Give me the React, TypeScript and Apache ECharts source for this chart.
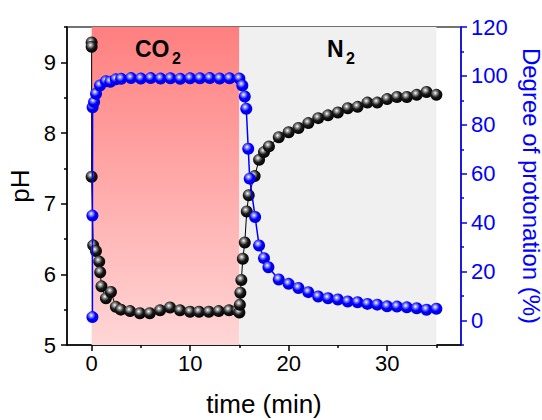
import React, { useEffect, useRef } from 'react';
import * as echarts from 'echarts';

// pH (left axis, black spheres)
const phTime = [0, 0, 0, 0.16, 0.44, 0.77, 0.87, 1.0, 1.45, 1.96, 2.46, 2.97, 3.9, 4.9, 5.9, 6.95, 7.96, 8.97, 9.99, 10.9, 11.9, 12.9, 13.95, 14.8, 15.0, 15.05, 15.1, 15.2, 15.35, 15.55, 15.75, 15.95, 16.55, 17.0, 17.5, 18.0, 19.0, 20.0, 21.0, 22.0, 23.0, 24.0, 25.0, 26.0, 27.0, 28.0, 29.0, 30.0, 31.0, 32.0, 33.0, 34.0, 35.0];
const phValues = [9.28, 9.22, 7.38, 6.41, 6.33, 6.18, 6.03, 5.83, 5.66, 5.75, 5.54, 5.5, 5.48, 5.45, 5.45, 5.49, 5.53, 5.49, 5.47, 5.47, 5.47, 5.48, 5.49, 5.49, 5.46, 5.57, 5.74, 5.92, 6.22, 6.45, 6.89, 7.12, 7.39, 7.62, 7.73, 7.81, 7.94, 8.01, 8.07, 8.14, 8.21, 8.25, 8.29, 8.35, 8.37, 8.43, 8.43, 8.48, 8.51, 8.51, 8.54, 8.58, 8.54];

// Degree of protonation (right axis, blue spheres)
const degTime = [0.08, 0.08, 0.1, 0.25, 0.45, 0.85, 1.45, 1.9, 2.45, 3, 4, 5, 6, 7, 8, 9, 10, 11, 12, 13, 14, 15.0, 15.3, 15.55, 15.7, 15.9, 16.05, 16.6, 17.0, 17.5, 17.95, 19, 20, 21, 22, 23, 24, 25, 26, 27, 28, 29, 30, 31, 32, 33, 34, 35];
const degValues = [1.4, 42.9, 87.2, 89.3, 92.7, 96.1, 97.8, 97.6, 98.6, 98.8, 99.1, 98.9, 99.1, 98.9, 99.0, 98.8, 99.0, 99.0, 99.1, 98.9, 99.0, 98.9, 96.1, 91.6, 86.6, 70.2, 58.0, 42.3, 30.7, 25.5, 21.8, 16.8, 15.0, 13.3, 11.6, 9.8, 9.1, 8.6, 7.8, 7.5, 6.8, 6.5, 5.8, 5.7, 5.4, 5.0, 4.4, 4.8];

// Gas phases
const co2Phase = [0, 15];
const n2Phase = [15, 35];

// Axis ticks
const xRange = [-2.5, 37.5];
const xMajorTicks = [0, 10, 20, 30];
const xMinorTicks = [5, 15, 25, 35];
const phRange = [5, 9.5];
const phMajorTicks = [5, 6, 7, 8, 9];
const phMinorTicks = [5.5, 6.5, 7.5, 8.5, 9.5];
const degRange = [-10, 120];
const degMajorTicks = [0, 20, 40, 60, 80, 100, 120];
const degMinorTicks = [-10, 10, 30, 50, 70, 90, 110];

const FONT = 'Liberation Sans, Arial, sans-serif';
const BLUE = '#0000ff';

export default function App() {
  const ref = useRef<HTMLDivElement>(null);
  useEffect(() => {
    if (!ref.current) return;
    const chart = echarts.init(ref.current, null, { renderer: 'svg' });
    const blackBall = new echarts.graphic.RadialGradient(0.4, 0.35, 0.65, [
      { offset: 0, color: '#ffffff' },
      { offset: 0.22, color: '#9a9a9a' },
      { offset: 0.55, color: '#1a1a1a' },
      { offset: 1, color: '#000000' },
    ]);
    const blueBall = new echarts.graphic.RadialGradient(0.4, 0.35, 0.65, [
      { offset: 0, color: '#ffffff' },
      { offset: 0.22, color: '#9090ff' },
      { offset: 0.55, color: '#0000ff' },
      { offset: 1, color: '#0000d8' },
    ]);
    const redGrad = new echarts.graphic.LinearGradient(0, 0, 0, 1, [
      { offset: 0, color: '#ff7f7f' },
      { offset: 1, color: '#ffd6d6' },
    ]);
    const phData = phTime.map((t, i) => [t, phValues[i]]);
    const degData = degTime.map((t, i) => [t, degValues[i]]);
    const hiddenAxisBase = {
      axisLine: { show: false, onZero: false },
      axisLabel: { show: false },
      splitLine: { show: false },
    };
    chart.setOption({
      animation: false,
      textStyle: { fontFamily: FONT },
      grid: {
        left: 67, right: 81, top: 27, bottom: 75,
        outerBoundsMode: 'none', containLabel: false,
        show: true, borderColor: '#444', borderWidth: 1.5, backgroundColor: 'transparent',
      },
      xAxis: [
        {
          type: 'value', min: xRange[0], max: xRange[1], position: 'bottom',
          name: 'time (min)', nameLocation: 'middle', nameGap: 46,
          nameTextStyle: { fontSize: 26, color: '#000', fontFamily: FONT },
          axisLine: { show: true, onZero: false, lineStyle: { color: '#000', width: 1.5 } },
          axisTick: { show: true, customValues: xMajorTicks, length: 6, lineStyle: { color: '#000', width: 1.5 } },
          axisLabel: { customValues: xMajorTicks, fontSize: 22, color: '#000', margin: 7, fontFamily: FONT },
          splitLine: { show: false },
        },
        {
          type: 'value', min: xRange[0], max: xRange[1], position: 'bottom', ...hiddenAxisBase,
          axisTick: { show: true, customValues: xMinorTicks, length: 3, lineStyle: { color: '#000', width: 1.5 } },
        },
      ],
      yAxis: [
        {
          type: 'value', min: phRange[0], max: phRange[1], position: 'left',
          name: 'pH', nameLocation: 'middle', nameGap: 34,
          nameTextStyle: { fontSize: 26, color: '#000', fontFamily: FONT },
          axisLine: { show: true, onZero: false, lineStyle: { color: '#000', width: 1.5 } },
          axisTick: { show: true, customValues: phMajorTicks, length: 6, lineStyle: { color: '#000', width: 1.5 } },
          axisLabel: { customValues: phMajorTicks, fontSize: 22, color: '#000', margin: 11, fontFamily: FONT },
          splitLine: { show: false },
        },
        {
          type: 'value', min: degRange[0], max: degRange[1], position: 'right',
          name: 'Degree of protonation (%)', nameLocation: 'middle', nameGap: 48, nameRotate: -90,
          nameTextStyle: { fontSize: 24, color: BLUE, fontFamily: FONT, lineHeight: 26 },
          axisLine: { show: true, onZero: false, lineStyle: { color: BLUE, width: 1.5 } },
          axisTick: { show: true, customValues: degMajorTicks, length: 6, lineStyle: { color: BLUE, width: 1.5 } },
          axisLabel: { customValues: degMajorTicks, fontSize: 22, color: BLUE, margin: 10, fontFamily: FONT },
          splitLine: { show: false },
        },
        {
          type: 'value', min: phRange[0], max: phRange[1], position: 'left', ...hiddenAxisBase,
          axisTick: { show: true, customValues: phMinorTicks, length: 3, lineStyle: { color: '#000', width: 1.5 } },
        },
        {
          type: 'value', min: degRange[0], max: degRange[1], position: 'right', ...hiddenAxisBase,
          axisTick: { show: true, customValues: degMinorTicks, length: 3, lineStyle: { color: BLUE, width: 1.5 } },
        },
      ],
      graphic: [
        { type: 'text', x: 135, y: 49, style: { text: 'CO', font: `bold 23px ${FONT}`, fill: '#000', textVerticalAlign: 'middle' }, z: 10 },
        { type: 'text', x: 172, y: 58, style: { text: '2', font: `bold 16px ${FONT}`, fill: '#000', textVerticalAlign: 'middle' }, z: 10 },
        { type: 'text', x: 327, y: 49, style: { text: 'N', font: `bold 23px ${FONT}`, fill: '#000', textVerticalAlign: 'middle' }, z: 10 },
        { type: 'text', x: 346, y: 58, style: { text: '2', font: `bold 16px ${FONT}`, fill: '#000', textVerticalAlign: 'middle' }, z: 10 },
      ],
      series: [
        {
          type: 'line', name: 'pH', xAxisIndex: 0, yAxisIndex: 0, data: phData,
          symbol: 'circle', symbolSize: 12,
          lineStyle: { color: '#000', width: 1 },
          itemStyle: { color: blackBall },
          markArea: {
            silent: true,
            data: [
              [{ xAxis: co2Phase[0], itemStyle: { color: redGrad } }, { xAxis: co2Phase[1] }],
              [{ xAxis: n2Phase[0], itemStyle: { color: '#f0f0f0' } }, { xAxis: n2Phase[1] }],
            ],
          },
          z: 3,
        },
        {
          type: 'line', name: 'Degree', xAxisIndex: 0, yAxisIndex: 1, data: degData,
          symbol: 'circle', symbolSize: 12,
          lineStyle: { color: BLUE, width: 1.5 },
          itemStyle: { color: blueBall },
          z: 4,
        },
      ],
    });
    return () => chart.dispose();
  }, []);
  return <div ref={ref} style={{ width: 542, height: 420, position: 'absolute', left: 0, top: 0 }} />;
}
